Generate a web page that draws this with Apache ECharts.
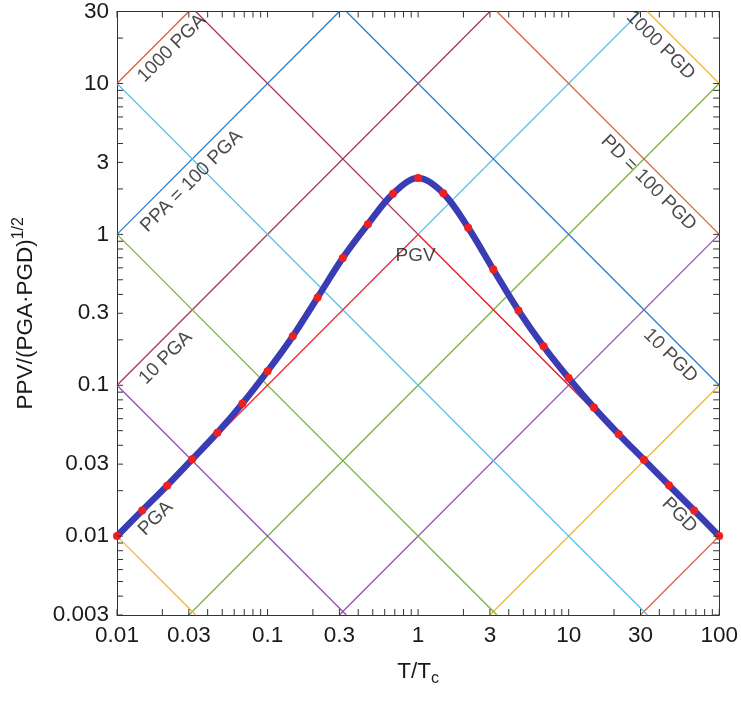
<!DOCTYPE html>
<html><head><meta charset="utf-8">
<script src="https://cdn.jsdelivr.net/npm/echarts@6/dist/echarts.min.js"></script>
<style>html,body{margin:0;padding:0;background:#fff}#c{width:741px;height:701px}</style>
</head><body><div id="c"></div>
<script>
// ---- data ----
const xTickLabels = [0.01, 0.03, 0.1, 0.3, 1, 3, 10, 30, 100];
const yTickLabels = [0.003, 0.01, 0.03, 0.1, 0.3, 1, 3, 10, 30];
const periodRatio = [0.01, 0.0147, 0.0215, 0.0316, 0.0464, 0.0681, 0.1, 0.147, 0.215, 0.316, 0.464, 0.681, 1,
  1.47, 2.15, 3.16, 4.64, 6.81, 10, 14.7, 21.5, 31.6, 46.4, 68.1, 100];
const ppvRatio = [0.0100, 0.0148, 0.0216, 0.0323, 0.0484, 0.0757, 0.124, 0.211, 0.382, 0.698, 1.167, 1.859, 2.361,
  1.870, 1.108, 0.584, 0.313, 0.181, 0.1115, 0.0712, 0.0474, 0.0321, 0.0217, 0.0148, 0.0100];
const pgaMultiples = [0.0001, 0.001, 0.01, 0.1, 1, 10, 100, 1000];   // y = c * x
const pgdMultiples = [0.0001, 0.001, 0.01, 0.1, 1, 10, 100, 1000];   // y = c / x
const envelopeX = [0.01, 1, 100];
const envelopeY = [0.01, 1, 0.01];

// ---- styles / layout ----
const C = { blue: '#2F7DC0', orange: '#DE5E36', yellow: '#EFB63A', purple: '#9150B5',
            green: '#7BB241', lblue: '#5AC2EC', dred: '#A73A52' };
const pgaColors = [C.orange, C.yellow, C.purple, C.green, C.lblue, C.dred, C.blue, C.orange];
const pgdColors = [C.yellow, C.purple, C.green, C.lblue, C.dred, C.blue, C.orange, C.yellow];
const annotations = [
  { text: '1000 PGA', at: [0.0231, 17.1], rot: 45 },
  { text: 'PPA = 100 PGA', at: [0.0313, 2.25], rot: 45 },
  { text: '10 PGA', at: [0.0211, 0.152], rot: 45 },
  { text: 'PGA', at: [0.0181, 0.0131], rot: 45 },
  { text: 'PGV', at: [0.963, 0.72], rot: 0 },
  { text: '1000 PGD', at: [40.7, 17.9], rot: -45 },
  { text: 'PD = 100 PGD', at: [33.9, 2.19], rot: -45 },
  { text: '10 PGD', at: [47.4, 0.157], rot: -45 },
  { text: 'PGD', at: [54.4, 0.01375], rot: -45 }
];
const XMIN = 0.01, XMAX = 100, YMIN = 0.003, YMAX = 30;
const FONT = 'Liberation Sans, Arial, sans-serif';
const AX = '#333';
const TXT = '#1a1a1a';

function minorTicks(lo, hi) {
  const out = [];
  for (let e = -4; e <= 3; e++) for (let m = 1; m <= 9; m++) {
    const v = +(m * Math.pow(10, e)).toPrecision(3);
    if (v >= lo * 0.999 && v <= hi * 1.001) out.push(v);
  }
  return out;
}
const fmt = v => String(+(+v).toPrecision(3));
const xTicks = minorTicks(XMIN, XMAX);
const yTicks = minorTicks(YMIN, YMAX);

function axis(kind, pos, lo, hi, labels, show) {
  return {
    type: 'log', logBase: 10, min: lo, max: hi, position: pos,
    axisLine: { show: true, onZero: false, lineStyle: { color: AX, width: 1 } },
    axisTick: { show: false },
    axisLabel: { show: show, customValues: labels, formatter: fmt, color: TXT, fontSize: 22.5, fontFamily: FONT,
                 margin: kind === 'x' ? 9 : 8 },
    splitLine: { show: false }, minorTick: { show: false }
  };
}

const series = [];
pgaMultiples.forEach((c, i) => {
  const x0 = Math.max(XMIN, YMIN / c), x1 = Math.min(XMAX, YMAX / c);
  if (x0 < x1) series.push({ type: 'line', data: [[x0, c * x0], [x1, c * x1]], symbol: 'none', silent: true,
    lineStyle: { color: pgaColors[i], width: 1.3 }, z: 2 });
});
pgdMultiples.forEach((c, i) => {
  const x0 = Math.max(XMIN, c / YMAX), x1 = Math.min(XMAX, c / YMIN);
  if (x0 < x1) series.push({ type: 'line', data: [[x0, c / x0], [x1, c / x1]], symbol: 'none', silent: true,
    lineStyle: { color: pgdColors[i], width: 1.3 }, z: 2 });
});
series.push({ type: 'line', data: envelopeX.map((x, i) => [x, envelopeY[i]]), symbol: 'none',
  lineStyle: { color: '#FF2A2A', width: 1.3 }, z: 3 });
series.push({ type: 'line', data: periodRatio.map((x, i) => [x, ppvRatio[i]]), smooth: 0.35,
  symbol: 'circle', symbolSize: 8, itemStyle: { color: '#F02020' }, showAllSymbol: true,
  lineStyle: { color: '#3A3CB4', width: 6.5 }, z: 5 });
series.push({ type: 'scatter', symbolSize: 0, z: 6, silent: true,
  data: annotations.map(a => ({ value: a.at, name: a.text,
    label: { show: true, position: 'inside', formatter: a.text, rotate: a.rot, color: TXT,
             fontSize: 19, fontFamily: FONT } })) });

// axis ticks (inward, on all four sides), placed through the axes' own scales
const TL = 6;
series.push({ type: 'custom', z: 10, silent: true, clip: false,
  data: xTicks.map(v => [v, YMIN]),
  renderItem: (params, api) => {
    const v = api.value(0);
    const b = api.coord([v, YMIN]), t = api.coord([v, YMAX]);
    const st = { stroke: AX, lineWidth: 1 };
    return { type: 'group', children: [
      { type: 'line', shape: { x1: b[0], y1: b[1], x2: b[0], y2: b[1] - TL }, style: st },
      { type: 'line', shape: { x1: t[0], y1: t[1], x2: t[0], y2: t[1] + TL }, style: st } ] };
  } });
series.push({ type: 'custom', z: 10, silent: true, clip: false,
  data: yTicks.map(v => [XMIN, v]),
  renderItem: (params, api) => {
    const v = api.value(1);
    const l = api.coord([XMIN, v]), r = api.coord([XMAX, v]);
    const st = { stroke: AX, lineWidth: 1 };
    return { type: 'group', children: [
      { type: 'line', shape: { x1: l[0], y1: l[1], x2: l[0] + TL, y2: l[1] }, style: st },
      { type: 'line', shape: { x1: r[0], y1: r[1], x2: r[0] - TL, y2: r[1] }, style: st } ] };
  } });

const chart = echarts.init(document.getElementById('c'), null, { renderer: 'canvas' });
const xa0 = axis('x', 'bottom', XMIN, XMAX, xTickLabels, true);
xa0.name = '{a|T/T}{s|c}';
xa0.nameLocation = 'middle';
xa0.nameGap = 42;
xa0.nameTextStyle = { rich: { a: { fontSize: 22.5, fontFamily: FONT, color: TXT },
  s: { fontSize: 16, fontFamily: FONT, color: TXT, padding: [14, 0, 0, 0] } } };
const ya0 = axis('y', 'left', YMIN, YMAX, yTickLabels, true);
ya0.name = '{a|PPV/(PGA·PGD)}{s|1/2}';
ya0.nameLocation = 'middle';
ya0.nameRotate = 90;
ya0.nameGap = 76;
ya0.nameTextStyle = { rich: { a: { fontSize: 22.5, fontFamily: FONT, color: TXT },
  s: { fontSize: 16, fontFamily: FONT, color: TXT, padding: [0, 0, 14, 0] } } };

chart.setOption({
  animation: false,
  backgroundColor: '#fff',
  grid: { left: 117, right: 19, top: 10, bottom: 86, containLabel: false },
  xAxis: [xa0, axis('x', 'top', XMIN, XMAX, xTickLabels, false)],
  yAxis: [ya0, axis('y', 'right', YMIN, YMAX, yTickLabels, false)],
  series: series
});
</script></body></html>
